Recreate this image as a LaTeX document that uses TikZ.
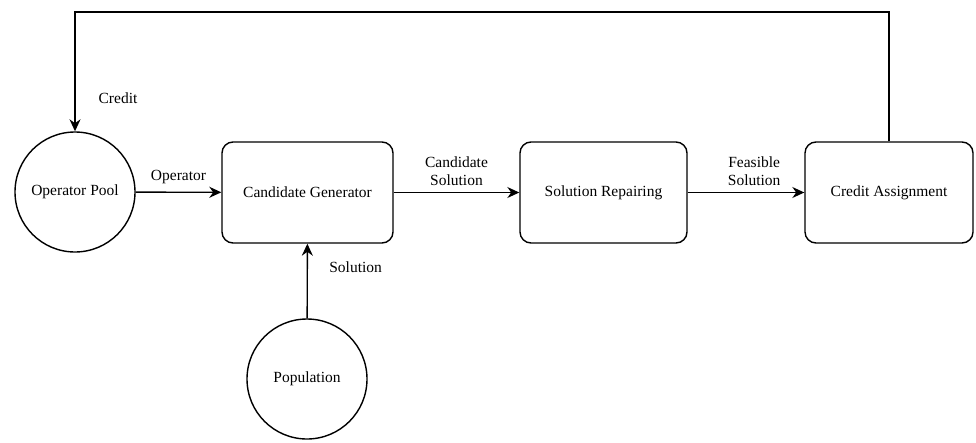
\documentclass[tikz,border=0pt]{standalone}
\usepackage{fontspec}
\setmainfont{Liberation Serif}
\usetikzlibrary{arrows.meta}

\begin{document}
\begin{tikzpicture}[x=1pt, y=-1pt, >={Stealth[length=12pt,width=11pt]}]
        \tikzset{
            every node/.style={font=\fontsize{15.5}{18}\selectfont},
            pool/.style={circle,draw,line width=1.4pt, minimum size=120pt, inner sep=0pt},
            stage/.style={rectangle,draw,line width=1.4pt,rounded corners=11pt, minimum height=101pt},
            link/.style={->,line width=1.4pt, black}
        }
        \useasboundingbox (0,0) rectangle (976,442);

        \node[pool] (P) at (75,192) {Operator Pool};
        \node[stage, minimum width=171pt] (G) at (307.5,192.5) {Candidate Generator};
        \node[stage, minimum width=167pt] (R) at (603.5,192.5) {Solution Repairing};
        \node[stage, minimum width=168pt] (C) at (889,192.5) {Credit Assignment};
        \node[pool] (Pop) at (307,379) {Population};
        \coordinate (top) at (480,12);

        \draw[link] (P) -- node[above=4pt] {Operator} (G);
        \draw[link] (G) -- node[above=3pt, align=center] {Candidate\\Solution} (R);
        \draw[link] (R) -- node[pos=0.57, above=3pt, align=center] {Feasible\\Solution} (C);
        \draw[link] (Pop) -- node[pos=0.68, right=18pt] {Solution} (G);
        \draw[link] (C.north) |- (top) -| (P.north);
        \node (cr) at (118,98) {Credit};
\end{tikzpicture}
\end{document}
